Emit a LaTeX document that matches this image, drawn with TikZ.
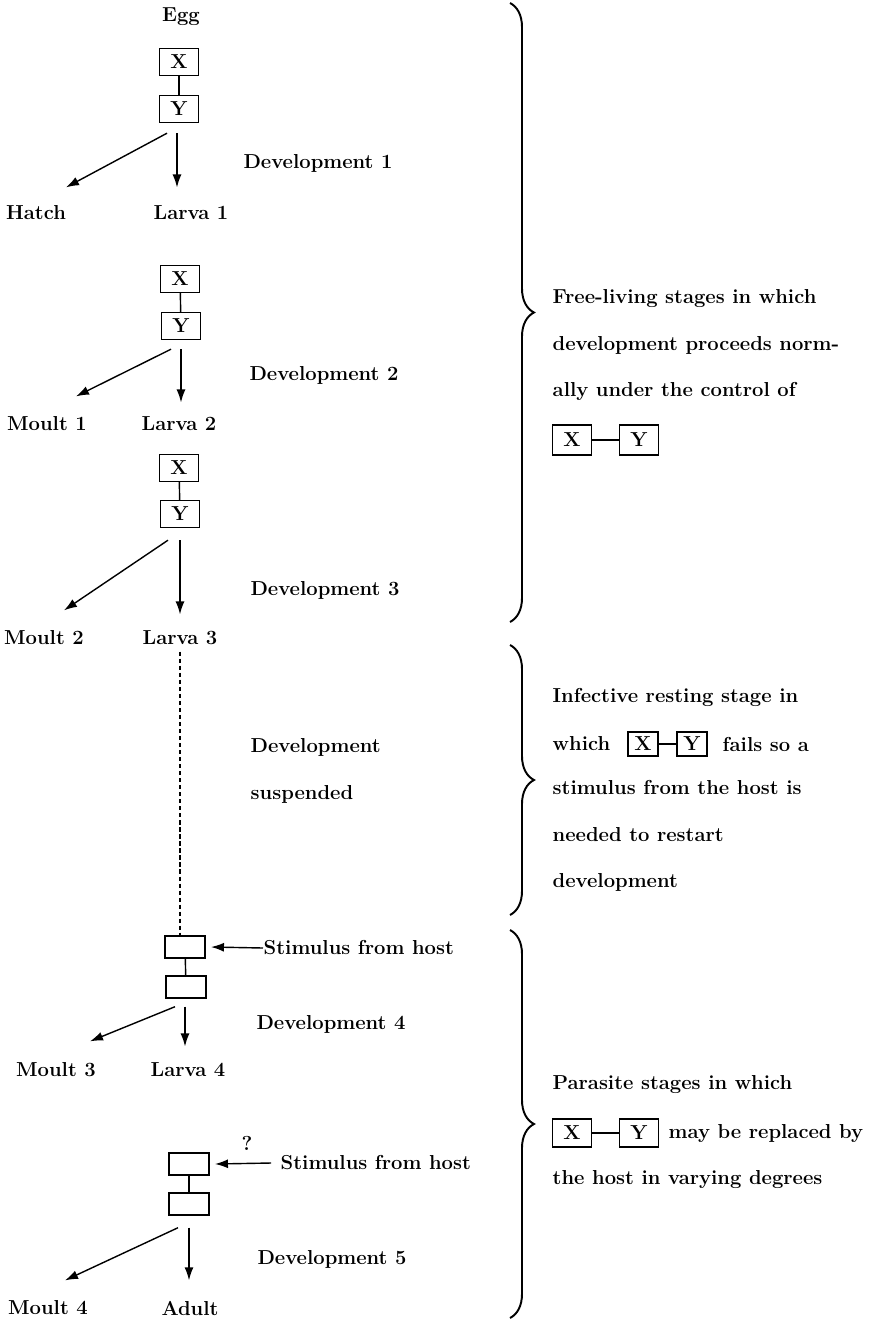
\documentclass[tikz,border=0pt]{standalone}
\usepackage{tikz}
\usetikzlibrary{arrows.meta,decorations.pathreplacing}

\begin{document}
\begin{tikzpicture}[x=0.02cm,y=-0.02cm,line width=0.8pt,
    every node/.style={font=\fontsize{11.5}{26.6}\selectfont\bfseries},
    gene/.style={draw,line width=0.8pt,minimum width=0.78cm,minimum height=0.54cm,inner sep=0pt},
    slot/.style={draw,line width=0.8pt,minimum width=0.8cm,minimum height=0.44cm,inner sep=0pt},
    tiny/.style={gene,minimum width=0.6cm,minimum height=0.48cm},
    txt/.style={anchor=west,inner sep=0pt,align=left},
    arr/.style={-{Latex[length=2.6mm,width=1.8mm]}},
    brace/.style={decorate,decoration={brace,amplitude=0.48cm},line width=1.1pt}]
\useasboundingbox (0,0) rectangle (876,1323);

% free-living stages
\node (egg) at (181,17) {Egg};
\node[gene] (x1) at (179,62) {X};
\node[gene] (y1) at (179,109) {Y};
\draw (x1) -- (y1);
\node (hatch) at (36,213) {Hatch};
\node (larva1) at (191,213) {Larva 1};
\draw[arr] ([shift={(-12,10)}]y1.south) -- ([shift={(30,-12)}]hatch.north);
\draw[arr] ([shift={(-2,10)}]y1.south) -- ([shift={(-14,-12)}]larva1.north);
\node (dev1) at (318,163) {Development 1};

\node[gene] (x2) at (180,279) {X};
\node[gene] (y2) at (181,326) {Y};
\draw (x2) -- (y2);
\node (moult1) at (47,424) {Moult 1};
\node (larva2) at (179,424) {Larva 2};
\draw[arr] ([shift={(-10,9)}]y2.south) -- ([shift={(29,-14)}]moult1.north);
\draw[arr] ([shift={(0,9)}]y2.south) -- ([shift={(2,-8)}]larva2.north);
\node (dev2) at (324,375) {Development 2};

\node[gene] (x3) at (179,468) {X};
\node[gene] (y3) at (180,514) {Y};
\draw (x3) -- (y3);
\node (moult2) at (44,638) {Moult 2};
\node (larva3) at (180,638) {Larva 3};
\draw[arr] ([shift={(-12,12)}]y3.south) -- ([shift={(20,-14)}]moult2.north);
\draw[arr] ([shift={(0,12)}]y3.south) -- ([shift={(0,-10)}]larva3.north);
\node (dev3) at (325,590) {Development 3};

% resting stage
\node[slot] (g4a) at (185,947) {};
\node[slot] (g4b) at (186,987) {};
\draw[dashed,dash pattern=on 2.4pt off 1.6pt] (larva3.south) -- (larva3.south |- g4a.north);
\node[txt] at (250,771) (dsus) {Development\\suspended};

% parasite stages
\draw (g4a) -- (g4b);
\node[txt] (stim4) at (263,948) {Stimulus from host};
\draw[arr] (stim4.west) -- ([xshift=3pt]g4a.east);
\node (moult3) at (56,1070) {Moult 3};
\node (larva4) at (188,1070) {Larva 4};
\draw[arr] ([shift={(-11,8)}]g4b.south) -- ([shift={(34,-15)}]moult3.north);
\draw[arr] ([shift={(-1,8)}]g4b.south) -- ([shift={(-3,-10)}]larva4.north);
\node (dev4) at (331,1024) {Development 4};

\node (qm) at (247,1143) {?};
\node[slot] (g5a) at (189,1164) {};
\node[slot] (g5b) at (189,1204) {};
\draw (g5a) -- (g5b);
\node[txt] (stim5) at (280,1163) {Stimulus from host};
\draw[arr] ([xshift=-5]stim5.west) -- ([xshift=3pt]g5a.east);
\node (moult4) at (48,1308) {Moult 4};
\node (adult) at (190,1308) {Adult};
\draw[arr] ([shift={(-11,12)}]g5b.south) -- ([shift={(17,-14)}]moult4.north);
\draw[arr] ([shift={(0,12)}]g5b.south) -- ([shift={(-1,-14)}]adult.north);
\node (dev5) at (332,1259) {Development 5};

% braces and notes
\draw[brace] (510,3) -- (510,622);
\draw[brace] (510,645) -- (510,915);
\draw[brace] (510,930) -- (510,1318);

\node[txt] (freenote) at (552,345) {Free-living stages in which\\development proceeds norm-\\ally under the control of};
\node[gene,minimum height=0.6cm] (fx) at (572,440) {X};
\node[gene,minimum height=0.6cm] (fy) at (639,440) {Y};
\draw (fx) -- (fy);

\node[txt] (restnote) at (552,697) {Infective resting stage in};
\node[txt] (which) at (552,744) {which};
\node[tiny] (rx) at (643,744) {X};
\node[tiny] (ry) at (692,744) {Y};
\draw (rx) -- (ry);
\node[txt] (fails) at (722,744) {fails so a};
\node[txt] (restnote2) at (552,836) {stimulus from the host is\\needed to restart\\development};

\node[txt] (parnote) at (552,1085) {Parasite stages in which};
\node[gene,minimum height=0.56cm] (px) at (572,1133) {X};
\node[gene,minimum height=0.56cm] (py) at (639,1133) {Y};
\draw (px) -- (py);
\node[txt] (replaced) at (668,1133) {may be replaced by};
\node[txt] (parnote2) at (552,1180) {the host in varying degrees};
\end{tikzpicture}
\end{document}
